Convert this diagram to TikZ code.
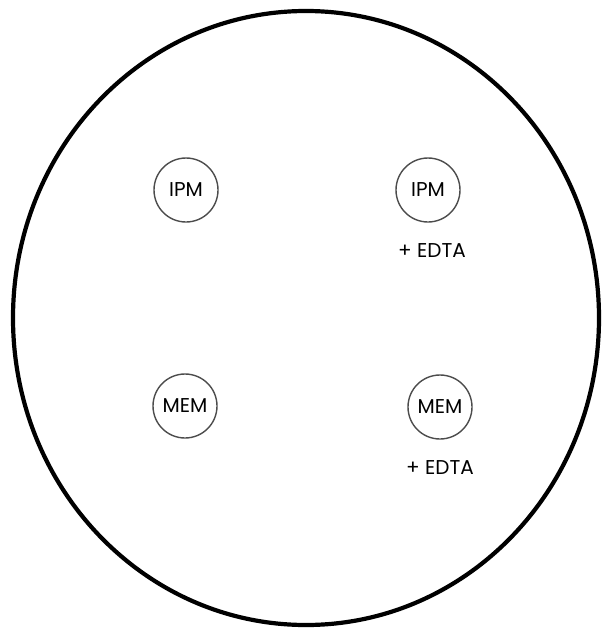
\documentclass[tikz,border=0pt]{standalone}
\usepackage{fontspec}
\setmainfont{Poppins}
\usepackage{tikz}
\usetikzlibrary{positioning}

\begin{document}
\begin{tikzpicture}[x=1pt,y=-1pt,every node/.style={font=\fontsize{20}{24}\selectfont},
  disc/.style={circle,draw=black!70,line width=1.4pt,minimum size=64pt,inner sep=0pt}]
\useasboundingbox (0,0) rectangle (603,629);
\draw[line width=4.2pt] (306,318) ellipse [x radius=293,y radius=307];
\node[disc] (ipmA) at (186,190) {IPM};
\node[disc] (ipmB) at (428,190) {IPM};
\node[below=17pt of ipmB,xshift=4pt] (edtaA) {+ EDTA};
\node[disc] (memA) at (185,406) {MEM};
\node[disc] (memB) at (440,407) {MEM};
\node[below=17pt of memB] (edtaB) {+ EDTA};
\end{tikzpicture}
\end{document}
